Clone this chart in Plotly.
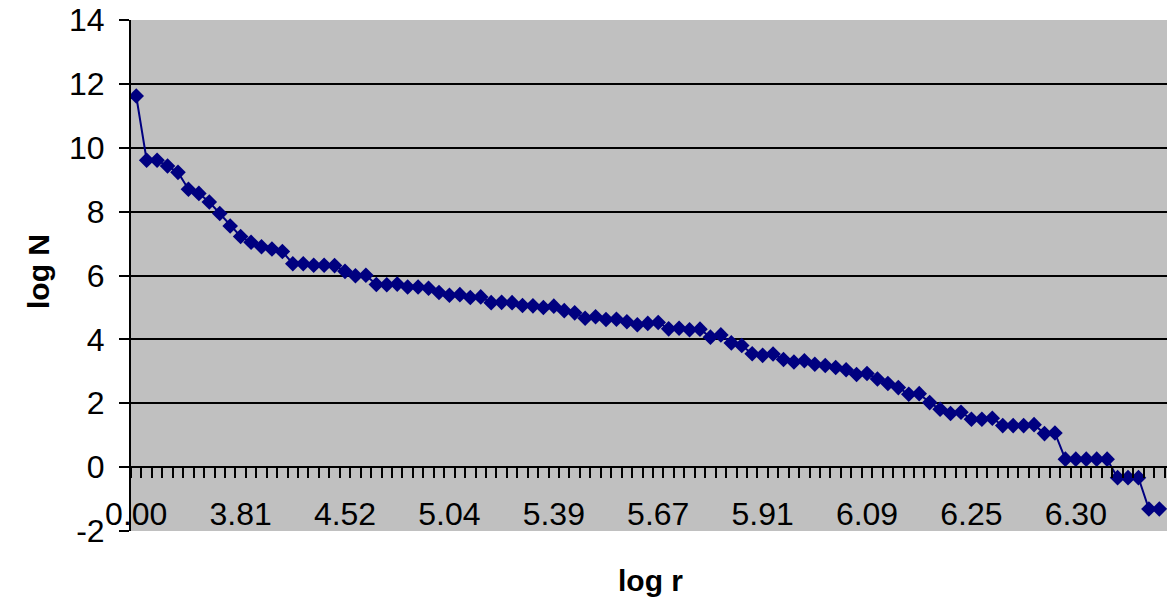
import plotly.graph_objects as go

# log N values, one per category
log_n = [11.62, 9.61, 9.61, 9.43, 9.23, 8.70, 8.57, 8.30, 7.94, 7.55,
         7.22, 7.04, 6.90, 6.83, 6.75, 6.37, 6.37, 6.32, 6.32, 6.31,
         6.13, 5.99, 6.01, 5.72, 5.71, 5.73, 5.64, 5.64, 5.60, 5.47,
         5.38, 5.40, 5.31, 5.33, 5.15, 5.16, 5.15, 5.06, 5.05, 5.00,
         5.04, 4.90, 4.83, 4.66, 4.71, 4.62, 4.63, 4.55, 4.46, 4.50,
         4.53, 4.33, 4.35, 4.30, 4.32, 4.07, 4.14, 3.89, 3.81, 3.55,
         3.50, 3.54, 3.37, 3.29, 3.33, 3.22, 3.18, 3.12, 3.05, 2.90,
         2.93, 2.76, 2.62, 2.49, 2.28, 2.30, 2.02, 1.81, 1.68, 1.72,
         1.50, 1.50, 1.53, 1.30, 1.30, 1.30, 1.33, 1.05, 1.07, 0.25,
         0.25, 0.25, 0.25, 0.25, -0.33, -0.33, -0.33, -1.31, -1.31]

# category-axis labels (log r), shown every 10th category
tick_labels = ["0.00", "3.81", "4.52", "5.04", "5.39", "5.67",
               "5.91", "6.09", "6.25", "6.30"]
label_step = 10

y_ticks = [-2, 0, 2, 4, 6, 8, 10, 12, 14]
y_tick_text = ["-2", "0", "2", "4", "6", "8", "10", "12", "14"]

categories = list(range(len(log_n)))
tick_positions = [i * label_step for i in range(len(tick_labels))]
boundaries = [i - 0.5 for i in range(len(log_n) + 1)]

FONT = "Liberation Sans, Arial, sans-serif"
NAVY = "#000080"

fig = go.Figure()
fig.add_trace(go.Scatter(
    x=categories, y=log_n, mode="lines+markers",
    line=dict(color=NAVY, width=2),
    marker=dict(symbol="diamond", size=12, color=NAVY),
    showlegend=False, cliponaxis=True, hoverinfo="skip",
))

W, H = 1167, 600
L, R, T, B = 131, 0, 20, 69
plot_w = W - L - R
plot_h = H - T - B
cat_w = 10.44
x_end = -0.5 + plot_w / cat_w

fig.update_layout(
    width=W, height=H,
    margin=dict(l=L, r=R, t=T, b=B, pad=0),
    paper_bgcolor="white",
    plot_bgcolor="#C0C0C0",
    font=dict(family=FONT, size=32, color="black"),
    xaxis=dict(
        range=[-0.5, x_end], anchor="free", position=2 / 16,
        showgrid=False, zeroline=False,
        showline=True, linecolor="black", linewidth=2,
        tickmode="array", tickvals=tick_positions, ticktext=tick_labels,
        ticks="outside", ticklen=18, tickcolor="rgba(0,0,0,0)",
        tickfont=dict(size=32),
        minor=dict(tickmode="array", tickvals=boundaries, ticks="outside",
                   ticklen=10, tickwidth=2, tickcolor="black", showgrid=False),
        automargin=False, fixedrange=True,
    ),
    yaxis=dict(
        range=[-2, 14], tickmode="array", tickvals=y_ticks,
        ticktext=y_tick_text,
        showgrid=True, gridcolor="black", gridwidth=2,
        zeroline=False,
        showline=True, linecolor="black", linewidth=2,
        ticks="outside", ticklen=10, tickwidth=2, tickcolor="black",
        ticklabelstandoff=8,
        tickfont=dict(size=32),
        automargin=False, fixedrange=True,
    ),
    annotations=[
        dict(text="<b>log r</b>", xref="paper", yref="paper",
             x=(650 - L) / plot_w, y=(T + plot_h - 580) / plot_h,
             xanchor="center", yanchor="middle", showarrow=False,
             font=dict(size=30, family=FONT)),
        dict(text="<b>log N</b>", xref="paper", yref="paper",
             x=(38 - L) / plot_w, y=(T + plot_h - 272) / plot_h,
             textangle=-90,
             xanchor="center", yanchor="middle", showarrow=False,
             font=dict(size=30, family=FONT)),
    ],
)

fig.write_html("out.html",
               config={"displayModeBar": False, "staticPlot": True},
               post_script="document.body.style.margin='0';"
                           "document.body.style.overflow='hidden';")
